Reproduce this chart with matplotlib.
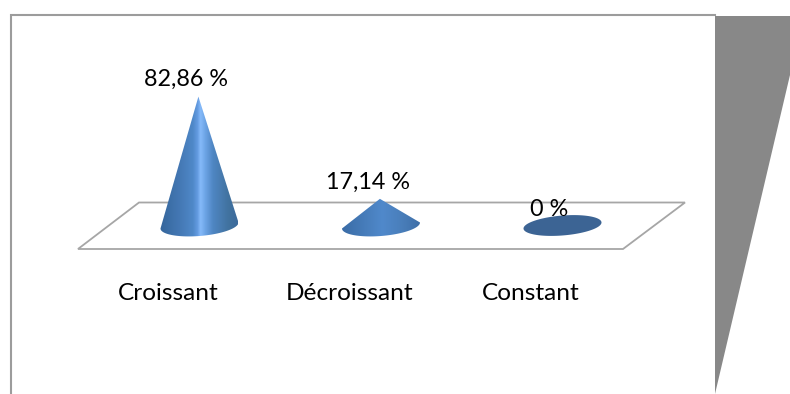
import numpy as np
import matplotlib
matplotlib.use("Agg")
import matplotlib.pyplot as plt
from matplotlib.colors import LinearSegmentedColormap
from matplotlib.patches import PathPatch, Polygon
from matplotlib.path import Path
from matplotlib.lines import Line2D

categories = ["Croissant", "Décroissant", "Constant"]
values = [82.86, 17.14, 0.0]
value_labels = ["82,86 %", "17,14 %", "0 %"]

W, H = 790, 394
plt.rcParams["font.family"] = ["Lato", "DejaVu Sans"]
fig = plt.figure(figsize=(W / 100, H / 100), dpi=100, facecolor="white")

# Page-level decoration and text are laid out in pixel units.
deco = fig.add_axes([0, 0, 1, 1], zorder=1)
deco.set_xlim(0, W)
deco.set_ylim(H, 0)
deco.axis("off")

deco.add_patch(Polygon([(715, 16), (790, 16), (790, 75), (715, 394)],
                       closed=True, fc="#888888", ec="none"))
deco.add_line(Line2D([10.5, 10.5, 715], [394, 15, 15], color="#9c9c9c", lw=1.5,
                     solid_joinstyle="miter"))
deco.add_patch(Polygon([(78, 249), (139, 202.5), (685, 202.5), (623, 249)],
                       closed=True, fc="white", ec="#a6a6a6", lw=1.3))

# Chart axes: x in category slots, y in percent, sharing the page canvas.
X0, DX = 199.5, 181.5
Y0, PX_PER_PCT = 225.5, 1.556
ax = fig.add_axes([0, 0, 1, 1], zorder=2)
ax.axis("off")
ax.patch.set_alpha(0)

tall_cmap = LinearSegmentedColormap.from_list("tall", [
    (0.00, "#35659b"), (0.25, "#4478b4"), (0.42, "#4f88c8"), (0.48, "#629ae0"),
    (0.52, "#86bafa"), (0.58, "#6da5e6"), (0.68, "#4f86c3"), (0.88, "#41729f"),
    (1.00, "#3c6a9c"),
])
# The low cone catches the light less sharply.
flat_cmap = LinearSegmentedColormap.from_list("flat", [
    (0.00, "#3a6ca6"), (0.30, "#477dbb"), (0.52, "#5089cb"), (0.75, "#4a7fbc"),
    (1.00, "#3f70a8"),
])
cone_cmaps = [tall_cmap, flat_cmap, None]

HALF_W = 39 / DX
HALF_H = 10.5 / PX_PER_PCT
RISE = 3 / PX_PER_PCT  # right end of each tilted base sits higher than the left

for i, (v, cmap) in enumerate(zip(values, cone_cmaps)):
    if v > 0:
        theta = np.linspace(np.pi, 2 * np.pi, 80)
        ex = i + HALF_W * np.cos(theta)
        ey = HALF_H * np.sin(theta) + RISE * np.cos(theta)
        apex = (i - 0.006, v)
        verts = [apex] + list(zip(ex, ey)) + [apex]
        clip = PathPatch(Path(verts), transform=ax.transData, fc="none", ec="none")
        ax.add_patch(clip)
        grad = np.linspace(0, 1, 256).reshape(1, -1)
        im = ax.imshow(grad, cmap=cmap, aspect="auto", interpolation="bilinear",
                       extent=[i - HALF_W, i + HALF_W, -HALF_H * 2, v], zorder=3)
        im.set_clip_path(clip)
    else:
        # A zero value collapses the cone to its flat base.
        theta = np.linspace(0, 2 * np.pi, 120)
        ex = i + HALF_W * np.cos(theta)
        ey = v + HALF_H * 0.95 * np.sin(theta) + RISE * np.cos(theta)
        ax.add_patch(Polygon(list(zip(ex, ey)), closed=True, fc="#3c6494",
                             ec="none", zorder=3))

ax.set_xlim(-X0 / DX, (W - X0) / DX)
ax.set_ylim((Y0 - H) / PX_PER_PCT, Y0 / PX_PER_PCT)

# Value labels sit just above each apex; category labels run below the floor.
text_ax = fig.add_axes([0, 0, 1, 1], zorder=3)
text_ax.set_xlim(0, W)
text_ax.set_ylim(H, 0)
text_ax.axis("off")
text_ax.patch.set_alpha(0)

for lab, px, py in zip(value_labels, [186, 368, 549], [79, 182, 209]):
    text_ax.text(px, py, lab, ha="center", va="center", fontsize=16.8, color="black")

for cat, px in zip(categories, [168, 350, 531]):
    text_ax.text(px, 293, cat, ha="center", va="center", fontsize=17.6, color="black")

fig.savefig("out.png", dpi=100, facecolor="white")
